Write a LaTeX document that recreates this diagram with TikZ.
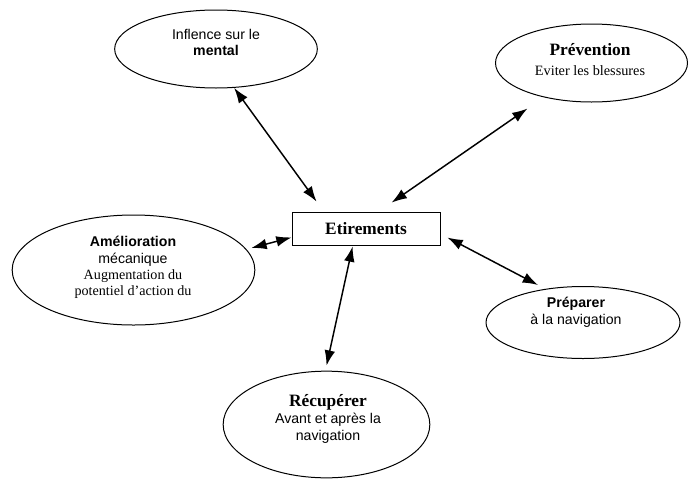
\documentclass[tikz,border=0pt]{standalone}
\usepackage{fontspec}
\setmainfont{Liberation Serif}
\newfontfamily\arial{Liberation Sans}
\usetikzlibrary{shapes.geometric,arrows.meta}

\tikzset{
  bulle/.style={draw, ellipse, line width=0.75pt, inner sep=0pt},
  texte/.style={align=center, inner sep=0pt},
  sans/.style={font={\arial\fontsize{10.6}{12.2}\selectfont}},
  serif/.style={font={\fontsize{10.7}{12.2}\selectfont}},
  lien/.style={{Latex[length=11.5pt,width=8pt]}-{Latex[length=11.5pt,width=8pt]}, line width=1.1pt}
}

\begin{document}
\begin{tikzpicture}[x=0.75pt, y=-0.75pt]
  \useasboundingbox (0,0) rectangle (688,479);

  % centre
  \node[draw, line width=0.6pt, minimum width=111pt, minimum height=24.75pt, inner sep=0pt] (etir) at (366,228.5)
    {\fontsize{13}{15}\selectfont\bfseries Etirements};

  % bulles
  \node[bulle, minimum width=152pt, minimum height=58.5pt] (mental) at (216,49) {};
  \node[bulle, minimum width=144pt, minimum height=58.5pt] (prev) at (591.5,63) {};
  \node[bulle, minimum width=182pt, minimum height=82.5pt] (amel) at (133.5,270) {};
  \node[bulle, minimum width=145.5pt, minimum height=54pt] (prep) at (583,322.5) {};
  \node[bulle, minimum width=155pt, minimum height=80pt] (recup) at (326.5,424.5) {};

  % textes
  \node[texte, sans, font={\arial\fontsize{10.6}{12}\selectfont}] (mentalt) at (216,42)
    {Inflence sur le\\\textbf{mental}};
  \node[texte, serif, font={\fontsize{10.7}{15}\selectfont}] (prevt) at (590,60)
    {{\fontsize{13}{15}\selectfont\bfseries Prévention}\\Eviter les blessures};
  \node[texte, sans] (amelt) at (133,267.5)
    {\textbf{Amélioration}\\mécanique\\{\rmfamily Augmentation du}\\{\rmfamily potentiel d’action du}};
  \node[texte, sans, font={\arial\fontsize{10.6}{13}\selectfont}] (prept) at (576,312.5)
    {\textbf{Préparer}\\à la navigation};
  \node[texte, sans, font={\arial\fontsize{10.6}{12.5}\selectfont}] (recupt) at (328,419)
    {{\rmfamily\fontsize{13}{15}\selectfont\bfseries Récupérer}\\Avant et après la\\navigation};

  % fleches
  \draw[lien] (mental.-65) -- ([shift={(25,-10)}]etir.north west);
  \draw[lien] ([shift={(-64,6)}]prev.south) -- ([shift={(100,-9)}]etir.north west);
  \draw[lien] ([shift={(-4,-22)}]amel.east) -- ([shift={(0,-8)}]etir.south west);
  \draw[lien] ([shift={(7,9)}]etir.east) -- ([shift={(-45,-1)}]prep.north);
  \draw[lien] ([shift={(61,1)}]etir.south west) -- ([shift={(0,-5)}]recup.north);
\end{tikzpicture}
\end{document}
